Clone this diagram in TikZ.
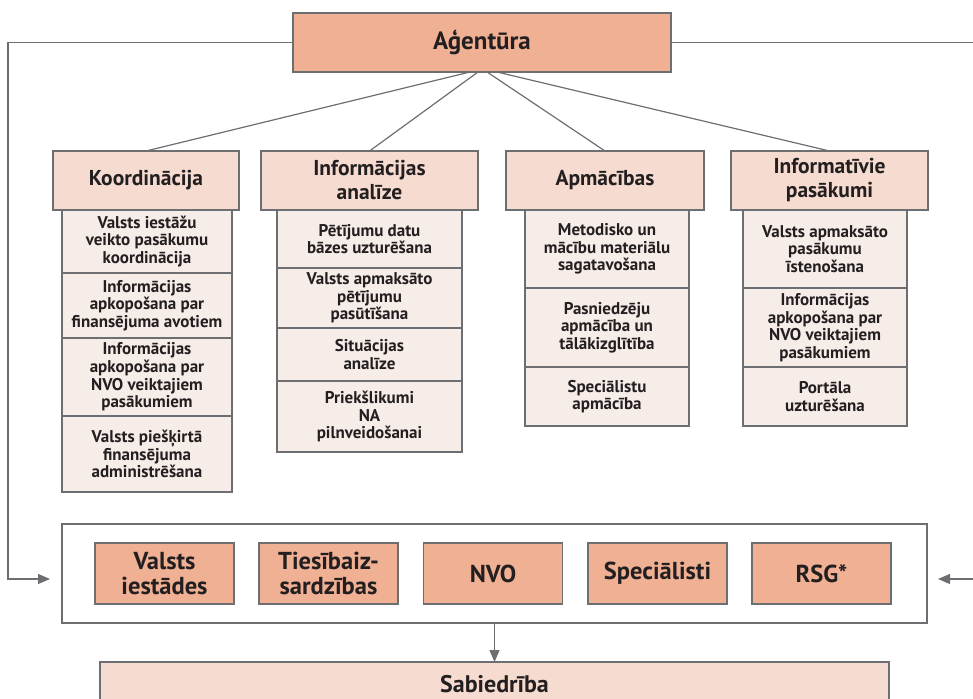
\documentclass[tikz,border=0pt]{standalone}
\usepackage{fontspec}
\setmainfont{PT Sans}
\usetikzlibrary{arrows.meta}
\definecolor{linegray}{HTML}{6D6E71}
\definecolor{agfill}{HTML}{F0B094}
\definecolor{hdrfill}{HTML}{F6DBD0}
\definecolor{subfill}{HTML}{F6ECE8}
\definecolor{txt}{HTML}{231F20}
\tikzset{
  bx/.style={draw=linegray, line width=1.4pt, inner sep=0pt, outer sep=0pt, align=center, text=txt, font=\bfseries},
  agbox/.style={bx, fill=agfill, font=\bfseries\fontsize{25}{28}\selectfont},
  hdrbox/.style={bx, fill=hdrfill, font=\bfseries\fontsize{21.5}{24}\selectfont},
  subbox/.style={bx, fill=subfill, font=\bfseries\fontsize{17}{17.6}\selectfont},
  grpbox/.style={bx, fill=agfill, minimum width=139, minimum height=61, font=\bfseries\fontsize{24.5}{25.5}\selectfont},
  sabbox/.style={bx, fill=hdrfill, font=\bfseries\fontsize{24}{26}\selectfont},
  conn/.style={draw=linegray, line width=1.2pt},
  arr/.style={conn, -{Triangle[length=12pt,width=10pt]}},
}
\begin{document}
\begin{tikzpicture}[x=1pt,y=-1pt]
\useasboundingbox (0,0) rectangle (973,698);
% top
\node[agbox, minimum width=378, minimum height=59] (ag) at (482,42.5) {Aģentūra};
% column 1
\node[hdrbox, minimum width=186, minimum height=59] (h1) at (146,180.5) {Koordinācija};
\node[subbox, minimum width=170, minimum height=63] (s11) at (147,241.5) {Valsts iestāžu\\veikto pasākumu\\koordinācija};
\node[subbox, minimum width=170, minimum height=65] (s12) at (147,305.5) {Informācijas\\apkopošana par\\finansējuma avotiem};
\node[subbox, minimum width=170, minimum height=78] (s13) at (147,377) {Informācijas\\apkopošana par\\NVO veiktajiem\\pasākumiem};
\node[subbox, minimum width=170, minimum height=76] (s14) at (147,454) {Valsts piešķirtā\\finansējuma\\administrēšana};
% column 2
\node[hdrbox, minimum width=217, minimum height=59] (h2) at (369.5,180.5) {Informācijas\\analīze};
\node[subbox, minimum width=185, minimum height=58] (s21) at (369.5,239) {Pētījumu datu\\bāzes uzturēšana};
\node[subbox, minimum width=185, minimum height=60] (s22) at (369.5,298) {Valsts apmaksāto\\pētījumu\\pasūtīšana};
\node[subbox, minimum width=185, minimum height=53] (s23) at (369.5,354.5) {Situācijas\\analīze};
\node[subbox, minimum width=185, minimum height=71] (s24) at (369.5,416.5) {Priekšlikumi\\NA\\pilnveidošanai};
% column 3
\node[hdrbox, minimum width=198, minimum height=59] (h3) at (605,180.5) {Apmācības};
\node[subbox, minimum width=164, minimum height=78] (s31) at (607,249) {Metodisko un\\mācību materiālu\\sagatavošana};
\node[subbox, minimum width=164, minimum height=79] (s32) at (607,327.5) {Pasniedzēju\\apmācība un\\tālākizglītība};
\node[subbox, minimum width=164, minimum height=59] (s33) at (607,396.5) {Speciālistu\\apmācība};
% column 4
\node[hdrbox, minimum width=197, minimum height=59] (h4) at (829.5,180.5) {Informatīvie\\pasākumi};
\node[subbox, minimum width=164, minimum height=78] (s41) at (825,249) {Valsts apmaksāto\\pasākumu\\īstenošana};
\node[subbox, minimum width=164, minimum height=79] (s42) at (825,327.5) {Informācijas\\apkopošana par\\NVO veiktajiem\\pasākumiem};
\node[subbox, minimum width=164, minimum height=59] (s43) at (825,396.5) {Portāla\\uzturēšana};
% connectors from agency
\draw[conn] ([xshift=-12pt]ag.south) -- (h1.north);
\draw[conn] ([xshift=-4pt]ag.south) -- (h2.north);
\draw[conn] ([xshift=5pt]ag.south) -- (h3.north);
\draw[conn] ([xshift=15pt]ag.south) -- (h4.north);
% group container
\node[draw=linegray, line width=1.4pt, fill=white, minimum width=865, minimum height=99, inner sep=0pt, outer sep=0pt] (cont) at (494.5,573.5) {};
\node[grpbox] (g1) at (164.5,573.5) {Valsts\\iestādes};
\node[grpbox] (g2) at (328.5,573.5) {Tiesībaiz-\\sardzības};
\node[grpbox] (g3) at (493,573.5) {NVO};
\node[grpbox] (g4) at (657.5,573.5) {Speciālisti};
\node[grpbox] (g5) at (821.5,573.5) {RSG*};
% society
\node[sabbox, minimum width=789, minimum height=44] (sab) at (494.5,684) {Sabiedrība};
\draw[arr] (cont) -- (sab);
% feedback loops
\coordinate (lc) at (8,42.5);
\coordinate (la) at (50,579);
\coordinate (re) at (973,42.5);
\coordinate (rs) at (973,579);
\coordinate (ra) at (938,579);
\draw[arr] (ag.west) -- (lc) |- (la);
\draw[conn] (ag.east) -- (re);
\draw[arr] (rs) -- (ra);
\end{tikzpicture}
\end{document}
